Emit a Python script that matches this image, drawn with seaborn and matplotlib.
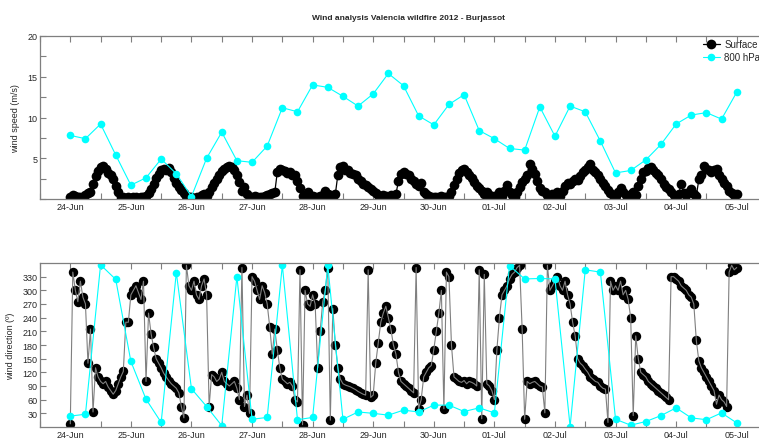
import numpy as np
import pandas as pd
import seaborn as sns
import matplotlib
matplotlib.use("Agg")
import matplotlib.pyplot as plt
import matplotlib.dates as mdates
from matplotlib.ticker import MultipleLocator

# surface station, hourly values from 24-Jun 00h to 05-Jul 00h
surface_speed = [
    0.2, 0.5, 0.4, 0.3, 0.2, 0.3, 0.5, 0.7, 0.8, 1.8, 2.8, 3.4, 3.9, 4.0, 3.7, 3.2, 2.9, 2.5, 1.6, 0.8, 0.3, 0.2, 0.1, 0.2,  # 24-Jun
    0.1, 0.3, 0.2, 0.1, 0.2, 0.2, 0.4, 0.7, 1.2, 1.9, 2.6, 3.1, 3.5, 3.7, 3.6, 3.8, 3.3, 2.6, 2.0, 1.5, 1.1, 0.7, 0.4, 0.2,  # 25-Jun
    0.2, 0.1, 0.3, 0.2, 0.5, 0.6, 0.4, 0.9, 1.5, 2.0, 2.5, 3.0, 3.4, 3.7, 3.9, 4.1, 3.9, 3.5, 3.0, 2.1, 1.0, 1.5, 0.6, 0.3,  # 26-Jun
    0.2, 0.4, 0.3, 0.2, 0.3, 0.4, 0.5, 0.6, 0.7, 0.8, 3.3, 3.7, 3.6, 3.4, 3.2, 3.3, 3.0, 2.9, 2.2, 1.4, 0.4, 0.3, 0.9, 0.4,  # 27-Jun
    0.4, 0.3, 0.2, 0.4, 0.5, 1.0, 0.6, 0.5, 0.4, 0.6, 3.0, 3.9, 4.0, 3.6, 3.5, 3.2, 3.1, 2.9, 2.5, 2.2, 1.9, 1.7, 1.5, 1.2,  # 28-Jun
    1.0, 0.7, 0.5, 0.4, 0.5, 0.4, 0.3, 0.5, 0.4, 0.6, 2.2, 3.1, 3.3, 3.1, 2.9, 2.5, 2.2, 1.9, 1.6, 2.0, 0.9, 0.6, 0.4, 0.3,  # 29-Jun
    0.3, 0.3, 0.2, 0.4, 0.3, 0.2, 0.4, 0.9, 1.7, 2.5, 3.2, 3.5, 3.7, 3.3, 3.0, 2.6, 2.1, 1.6, 1.3, 1.0, 0.6, 0.9, 0.5, 0.4,  # 30-Jun
    0.3, 0.5, 0.8, 0.4, 1.0, 1.7, 0.9, 0.5, 0.2, 0.8, 1.5, 2.1, 2.4, 3.0, 4.3, 3.7, 3.1, 2.2, 1.4, 1.0, 0.8, 0.5, 0.4, 0.6,  # 01-Jul
    0.5, 0.8, 0.4, 1.0, 1.6, 2.0, 1.8, 2.2, 2.4, 2.3, 2.8, 3.3, 3.6, 3.9, 4.3, 3.6, 3.3, 2.9, 2.5, 2.0, 1.6, 1.1, 0.7, 0.5,  # 02-Jul
    0.4, 0.8, 1.4, 0.9, 0.5, 0.4, 0.6, 0.8, 0.5, 1.6, 2.5, 3.3, 3.4, 3.8, 3.9, 3.6, 3.2, 2.9, 2.4, 1.9, 1.5, 1.2, 0.8, 0.5,  # 03-Jul
    0.4, 0.6, 1.8, 0.7, 0.5, 0.9, 1.2, 0.6, 0.4, 2.4, 2.9, 4.1, 3.7, 3.5, 3.3, 3.5, 3.7, 3.0, 2.4, 2.0, 1.6, 1.0, 0.7, 0.5,  # 04-Jul
    0.6,
]

surface_dir = [
    7, 340, 300, 275, 320, 285, 270, 140, 215, 33, 130, 110, 100, 95, 100, 88, 80, 72, 80, 95, 110, 122, 230, 230,
    290, 300, 310, 295, 280, 320, 100, 250, 205, 175, 150, 140, 130, 118, 110, 102, 95, 90, 85, 75, 45, 20, 355, 310,
    300, 320, 290, 280, 310, 325, 290, 45, 115, 110, 100, 105, 120, 100, 95, 90, 95, 100, 85, 60, 350, 45, 70, 30,
    330, 320, 300, 280, 310, 295, 270, 220, 160, 215, 170, 130, 105, 100, 95, 98, 90, 60, 55, 345, 5, 300, 270, 265,
    290, 270, 130, 210, 275, 300, 350, 15, 260, 180, 130, 105, 95, 92, 90, 88, 85, 82, 78, 75, 72, 70, 345, 65,
    70, 140, 185, 230, 250, 265, 240, 215, 180, 160, 120, 100, 95, 90, 85, 80, 75, 350, 40, 60, 110, 120, 130, 135,
    170, 210, 250, 300, 40, 340, 330, 180, 110, 105, 100, 98, 102, 95, 100, 98, 95, 90, 345, 18, 335, 95, 90, 80,
    60, 170, 240, 290, 300, 310, 325, 335, 340, 350, 355, 215, 17, 100, 95, 98, 100, 95, 90, 88, 31, 355, 300, 310,
    320, 330, 310, 300, 320, 290, 270, 230, 200, 150, 140, 135, 127, 120, 110, 105, 100, 98, 90, 85, 83, 10, 320, 300,
    310, 300, 320, 290, 300, 280, 240, 25, 200, 150, 120, 115, 110, 100, 95, 90, 85, 80, 75, 70, 65, 60, 330, 330,
    325, 320, 310, 305, 300, 290, 285, 270, 190, 145, 130, 120, 110, 100, 90, 80, 50, 70, 60, 55, 45, 340, 355, 345,
    350,
]

# 800 hPa, every 6 hours from 24-Jun 00h to 05-Jul 00h
upper_speed = [
    7.8, 7.4, 9.2, 5.4, 1.7, 2.6, 4.9, 3.1, 0.3, 5.0, 8.2, 4.7, 4.5, 6.5, 11.2, 10.7,
    14.0, 13.7, 12.6, 11.4, 12.9, 15.4, 13.9, 10.2, 9.1, 11.6, 12.8, 8.4, 7.4, 6.2,
    6.0, 11.3, 7.7, 11.4, 10.7, 7.1, 3.2, 3.5, 4.8, 6.7, 9.2, 10.3, 10.6, 9.8, 13.1,
]
upper_dir = [
    24, 28, 356, 324, 144, 61, 10, 339, 84, 45, 3, 330, 17, 21, 355, 16,
    21, 355, 17, 33, 30, 26, 37, 33, 48, 48, 34, 42, 31, 354,
    325, 326, 325, 1, 345, 340, 17, 4, 12, 25, 42, 20, 16, 31, 9,
]

series_labels = ["Surface", "800 hPa"]
title = "Wind analysis Valencia wildfire 2012 - Burjassot"

sns.set_style("white")
plt.rcParams["font.family"] = ["Liberation Sans", "DejaVu Sans"]

t_surface = pd.date_range("2012-06-24 00:00", periods=len(surface_speed), freq="h")
t_upper = pd.date_range("2012-06-24 00:00", periods=len(upper_speed), freq="6h")

W, H = 759, 439
fig = plt.figure(figsize=(W / 100, H / 100), dpi=100)
ax1 = fig.add_axes([40 / W, 1 - 200 / H, 727 / W, 163 / H])
ax2 = fig.add_axes([40 / W, 1 - 428 / H, 727 / W, 164 / H])

grey = "#7f7f7f"

sns.lineplot(x=t_surface, y=surface_speed, ax=ax1, color="black", linewidth=0.9,
             marker="o", markersize=7, markeredgewidth=0, label=series_labels[0])
sns.lineplot(x=t_upper, y=upper_speed, ax=ax1, color="#00ffff", linewidth=0.8,
             marker="o", markersize=5.5, markeredgewidth=0, label=series_labels[1])

sns.lineplot(x=t_surface, y=surface_dir, ax=ax2, color=grey, linewidth=0.8)
sns.scatterplot(x=t_surface, y=surface_dir, ax=ax2, color="black", s=46, linewidth=0)
sns.lineplot(x=t_upper, y=upper_dir, ax=ax2, color="#00ffff", linewidth=0.8,
             marker="o", markersize=5.5, markeredgewidth=0)

xmin = pd.Timestamp("2012-06-23 12:00")
xmax = pd.Timestamp("2012-07-05 12:00")
for ax in (ax1, ax2):
    ax.set_xlim(xmin, xmax)
    ax.xaxis.set_major_locator(mdates.DayLocator())
    ax.xaxis.set_minor_locator(mdates.HourLocator(byhour=[12]))
    ax.xaxis.set_major_formatter(mdates.DateFormatter("%d-%b"))
    ax.tick_params(axis="both", which="both", direction="in", labelsize=6.5,
                   color=grey, top=True, bottom=True, left=True, right=False,
                   length=4, width=0.8, pad=2)
    for side in ("top", "bottom", "left"):
        ax.spines[side].set_color(grey)
        ax.spines[side].set_linewidth(0.9)
    ax.spines["right"].set_visible(False)
    ax.set_xlabel("")

ax1.set_ylim(0, 20)
ax1.set_yticks([5, 10, 15, 20])
ax1.yaxis.set_minor_locator(MultipleLocator(2.5))
ax1.set_ylabel("wind speed (m/s)", fontsize=6.5, labelpad=5)

ax2.set_ylim(0, 360)
ax2.set_yticks(range(30, 331, 30))
ax2.set_ylabel("wind direction (º)", fontsize=6.5, labelpad=5)

leg = ax1.legend(loc="upper left", bbox_to_anchor=(703 / W, 1 - 40 / H),
                 bbox_transform=fig.transFigure, frameon=False, fontsize=7,
                 handlelength=1.7, handletextpad=0.5, labelspacing=0.35,
                 borderpad=0, borderaxespad=0)

fig.text(409 / W, 1 - 18 / H, title, ha="center", va="center",
         fontsize=6, fontweight="bold")

fig.savefig("out.png", dpi=100)
